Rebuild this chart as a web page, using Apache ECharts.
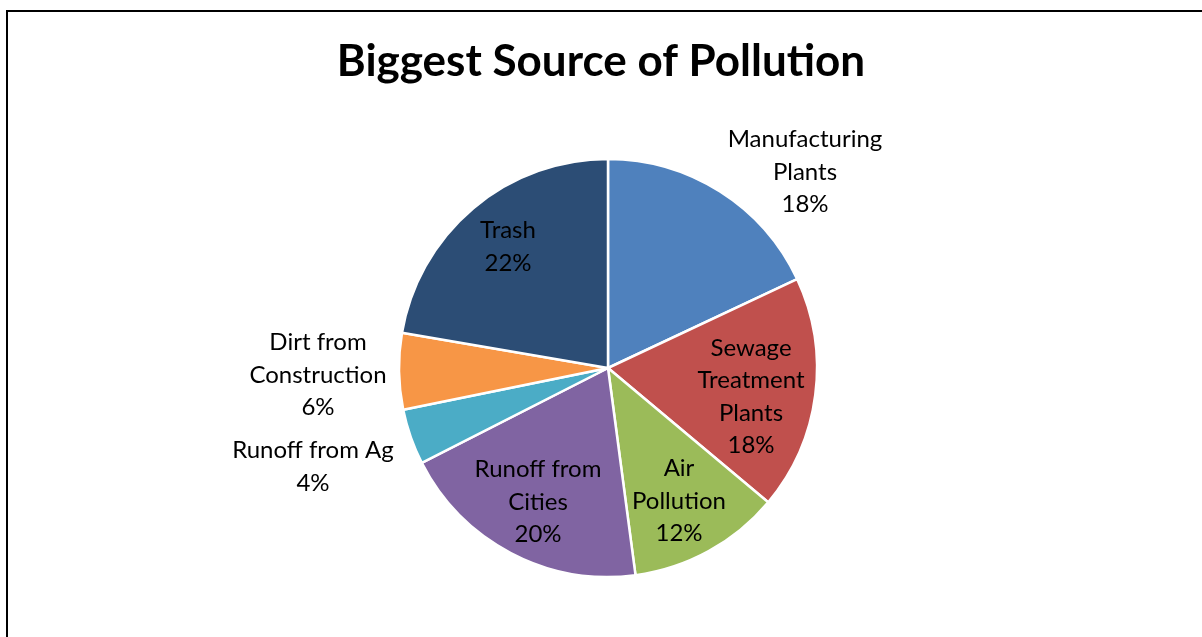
<!DOCTYPE html>
<html>
<head>
<meta charset="utf-8">
<script src="https://cdn.jsdelivr.net/npm/echarts@6/dist/echarts.min.js"></script>
<style>
html,body{margin:0;padding:0;background:#fff;}
#chart{position:absolute;left:0;top:0;width:1202px;height:637px;}
#frame{position:absolute;left:6px;top:10px;width:1300px;height:700px;border-top:2px solid #000;border-left:2px solid #000;pointer-events:none;}
</style>
</head>
<body>
<div id="chart"></div>
<div id="frame"></div>
<script>
// ---- data ----
const categories = ["Manufacturing Plants", "Sewage Treatment Plants", "Air Pollution", "Runoff from Cities", "Runoff from Ag", "Dirt from Construction", "Trash"];
const values = [18.0, 18.1, 11.8, 19.6, 4.3, 5.9, 22.3];
const titleText = "Biggest Source of Pollution";

// ---- presentation ----
const colors = ["#4F81BD", "#C0504D", "#9BBB59", "#8064A2", "#4BACC6", "#F79646", "#2C4D75"];
const wrapped = ["Manufacturing\nPlants", "Sewage\nTreatment\nPlants", "Air\nPollution", "Runoff from\nCities", "Runoff from Ag", "Dirt from\nConstruction", "Trash"];
const labelOffsets = [[197, -196], [143, 29], [71, 133], [-70, 134], [-295, 99], [-290, 7], [-100, -121]];
const CX = 608, CY = 368, R = 209;

const chart = echarts.init(document.getElementById('chart'), null, {renderer: 'canvas'});
chart.setOption({
  animation: false,
  backgroundColor: '#fff',
  title: {
    text: titleText,
    left: 'center',
    top: 35,
    textStyle: {fontFamily: 'Lato', fontWeight: 'bold', fontSize: 44, color: '#000'}
  },
  series: [{
    type: 'pie',
    center: [CX, CY],
    radius: [0, R],
    startAngle: 90,
    clockwise: true,
    avoidLabelOverlap: false,
    itemStyle: {borderColor: '#fff', borderWidth: 2.5},
    label: {
      show: true,
      position: 'inside',
      fontFamily: 'Lato',
      fontSize: 24,
      lineHeight: 32.5,
      color: '#000',
      align: 'center',
      formatter: p => wrapped[p.dataIndex] + '\n' + Math.round(p.percent) + '%'
    },
    labelLine: {show: false},
    emphasis: {disabled: true},
    labelLayout: p => ({
      x: CX + labelOffsets[p.dataIndex][0],
      y: CY + labelOffsets[p.dataIndex][1],
      align: 'center',
      verticalAlign: 'middle'
    }),
    data: categories.map((c, i) => ({name: c, value: values[i], itemStyle: {color: colors[i]}}))
  }]
});
</script>
</body>
</html>
